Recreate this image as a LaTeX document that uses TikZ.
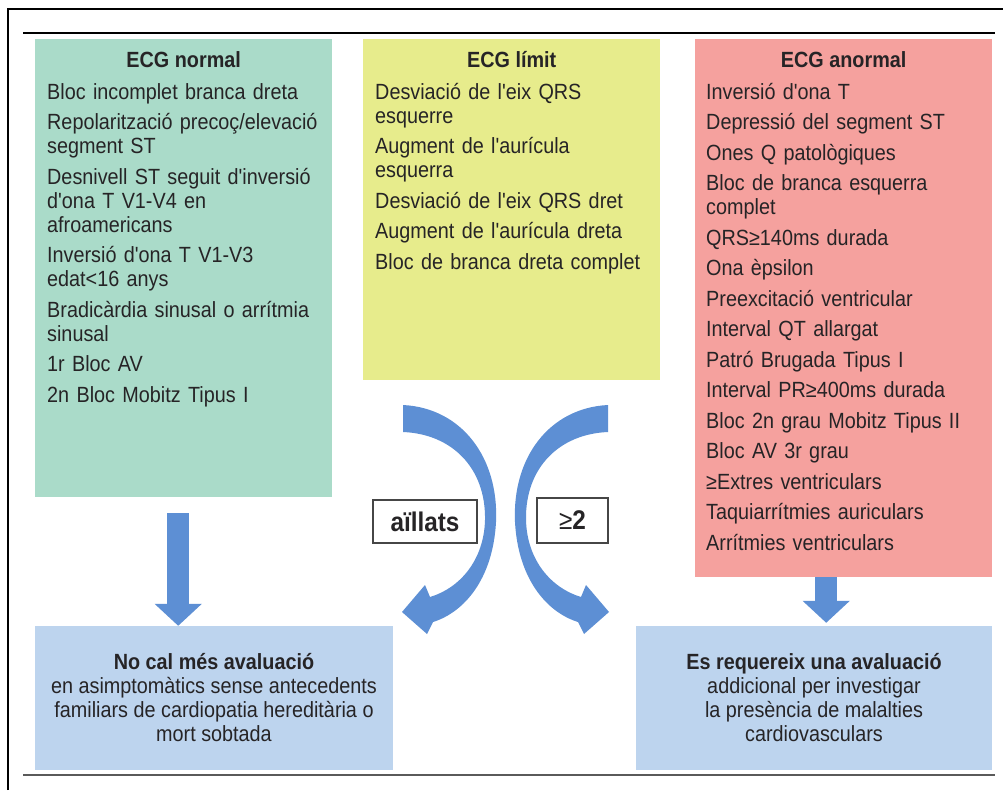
\documentclass[tikz,border=0pt]{standalone}
\usepackage{fontspec}
\setmainfont{Liberation Sans}[FakeStretch=0.9,Ligatures=TeXOff]
\usetikzlibrary{arrows.meta}
\definecolor{ecgtext}{RGB}{38,36,38}
\definecolor{normalbg}{RGB}{170,219,201}
\definecolor{limitbg}{RGB}{231,236,140}
\definecolor{anormalbg}{RGB}{245,161,158}
\definecolor{outcomebg}{RGB}{189,212,238}
\definecolor{arrowblue}{RGB}{93,143,212}
\definecolor{taggrey}{RGB}{70,70,70}
\definecolor{rulegrey}{RGB}{90,90,90}

% tapered bent arrow, drawn for the left side and mirrored for the right
\newcommand{\bentarrow}{%
  (403,405) .. controls (462,408) and (499,458) .. (496,522)
  .. controls (493,578) and (465,612) .. (433,622)
  -- (427,634) -- (402,612) -- (425,585) -- (430,597)
  .. controls (460,588) and (484,560) .. (485,520)
  .. controls (486,468) and (452,434) .. (403,432) -- cycle}

\begin{document}
\begin{tikzpicture}[
  x=1pt, y=-1pt,
  every node/.style={text=ecgtext},
  panel/.style={rectangle,anchor=north west,minimum width=297pt,inner sep=0pt},
  head/.style={anchor=base,inner sep=0pt,font=\fontsize{22}{24}\selectfont\bfseries},
  items/.style={anchor=base west,inner sep=0pt,text width=290pt,align=left,font=\fontsize{22}{24}\selectfont},
  outcome/.style={rectangle,fill=outcomebg,minimum height=144pt,inner sep=0pt,align=center,font=\fontsize{22}{24}\selectfont},
  tag/.style={rectangle,draw=taggrey,line width=1.5pt,fill=white,inner sep=0pt,font=\fontsize{27}{30}\selectfont\bfseries},
  blockarr/.style={line width=22pt,draw=arrowblue,-{Triangle[length=22pt,width=46pt]}}
]
\fill[white] (0,0) rectangle (1003,790);
\useasboundingbox (0,0) rectangle (1003,790);

% frame
\draw[line width=1.6pt] (8,790) -- (8,9) -- (1003,9);
\draw[line width=2pt] (23,33) -- (995,33);
\draw[line width=2.5pt,draw=rulegrey] (23,775) -- (995,775);

% three ECG panels
\node[panel,fill=normalbg,minimum height=458pt] (normal) at (35,39) {};
\node[panel,fill=limitbg,minimum height=341pt] (limit) at (363,39) {};
\node[panel,fill=anormalbg,minimum height=538pt] (anormal) at (695,39) {};

\node[head] (normalhd) at ([yshift=-28pt]normal.north) {ECG normal};
\node[head] (limithd) at ([yshift=-28pt]limit.north) {ECG límit};
\node[head] (anormalhd) at ([yshift=-28pt]anormal.north) {ECG anormal};

\node[items] (normallist) at ([xshift=12pt,yshift=-60pt]normal.north west) {%
  Bloc incomplet branca dreta\\[6.5pt]
  Repolarització precoç/elevació\\ segment ST\\[6.5pt]
  Desnivell ST seguit d'inversió\\ d'ona T V1-V4 en\\ afroamericans\\[6.5pt]
  Inversió d'ona T V1-V3\\ edat<16 anys\\[6.5pt]
  Bradicàrdia sinusal o arrítmia\\ sinusal\\[6.5pt]
  1r Bloc AV\\[6.5pt]
  2n Bloc Mobitz Tipus I};
\node[items] (limitlist) at ([xshift=12pt,yshift=-60pt]limit.north west) {%
  Desviació de l'eix QRS\\ esquerre\\[6.5pt]
  Augment de l'aurícula\\ esquerra\\[6.5pt]
  Desviació de l'eix QRS dret\\[6.5pt]
  Augment de l'aurícula dreta\\[6.5pt]
  Bloc de branca dreta complet};
\node[items] (anormallist) at ([xshift=11pt,yshift=-60pt]anormal.north west) {%
  Inversió d'ona T\\[6.5pt]
  Depressió del segment ST\\[6.5pt]
  Ones Q patològiques\\[6.5pt]
  Bloc de branca esquerra\\ complet\\[6.5pt]
  QRS≥140ms durada\\[6.5pt]
  Ona èpsilon\\[6.5pt]
  Preexcitació ventricular\\[6.5pt]
  Interval QT allargat\\[6.5pt]
  Patró Brugada Tipus I\\[6.5pt]
  Interval PR≥400ms durada\\[6.5pt]
  Bloc 2n grau Mobitz Tipus II\\[6.5pt]
  Bloc AV 3r grau\\[6.5pt]
  ≥Extres ventriculars\\[6.5pt]
  Taquiarrítmies auriculars\\[6.5pt]
  Arrítmies ventriculars};

% outcomes
\node[outcome,minimum width=358pt] (nocal) at (214,698) {%
  \textbf{No cal més avaluació}\\
  en asimptomàtics sense antecedents\\
  familiars de cardiopatia hereditària o\\
  mort sobtada};
\node[outcome,minimum width=356pt] (avalua) at (814,698) {%
  \textbf{Es requereix una avaluació}\\
  addicional per investigar\\
  la presència de malalties\\
  cardiovasculars};

% straight arrows
\draw[blockarr,shorten >=16pt] ([xshift=-5.5pt,yshift=-16pt]normal.south)
  -- ([xshift=-5.5pt,yshift=-16pt]normal.south |- nocal.north);
\draw[blockarr,shorten >=3pt] ([xshift=-17.5pt]anormal.south)
  -- ([xshift=-17.5pt]anormal.south |- avalua.north);

% bent arrows from the borderline panel
\fill[arrowblue] \bentarrow;
\begin{scope}[shift={(1011,0)},xscale=-1]
  \fill[arrowblue] \bentarrow;
\end{scope}

\node[tag,minimum width=104pt,minimum height=43pt] (aillats) at (425,521.5) {aïllats};
\node[tag,minimum width=71pt,minimum height=45pt] (dos) at (572.5,520.5) {\mdseries≥\bfseries2};
\end{tikzpicture}
\end{document}
